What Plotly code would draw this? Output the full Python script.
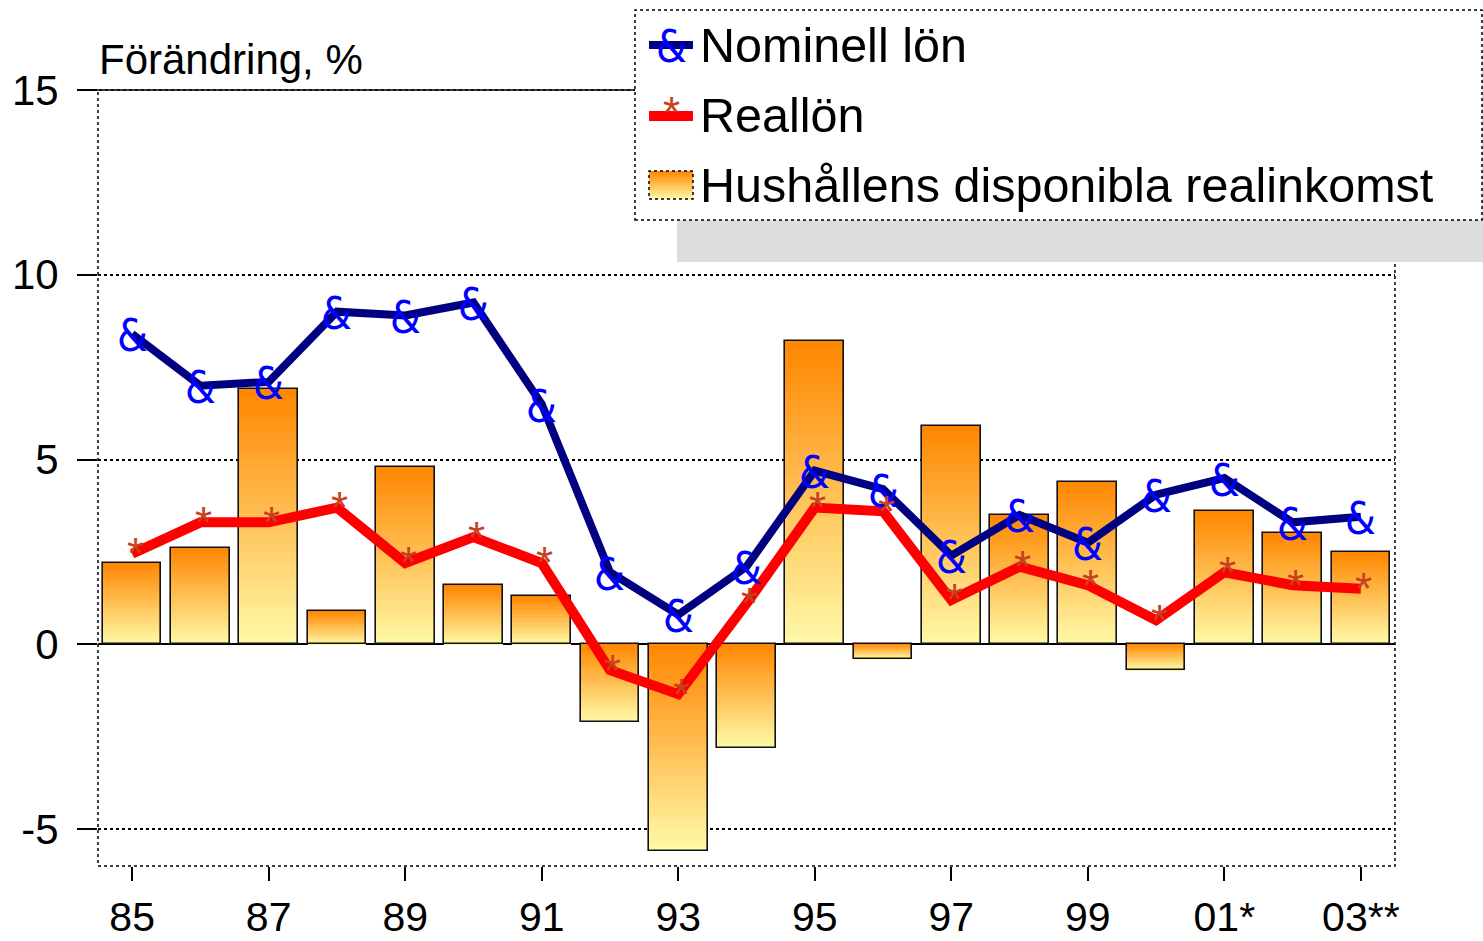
import plotly.graph_objects as go

# ---------------- data ----------------
categories = ["85", "86", "87", "88", "89", "90", "91", "92", "93", "94",
              "95", "96", "97", "98", "99", "00", "01", "02", "03"]
tick_vals = ["85", "87", "89", "91", "93", "95", "97", "99", "01", "03"]
tick_text = ["85", "87", "89", "91", "93", "95", "97", "99", "01*", "03**"]

disponibel = [2.2, 2.6, 6.9, 0.9, 4.8, 1.6, 1.3, -2.1, -5.6, -2.8,
              8.2, -0.4, 5.9, 3.5, 4.4, -0.7, 3.6, 3.0, 2.5]
nominell = [8.4, 7.0, 7.1, 9.0, 8.9, 9.25, 6.5, 1.95, 0.8, 2.1,
            4.7, 4.2, 2.4, 3.5, 2.75, 4.05, 4.5, 3.3, 3.45]
reallon = [2.45, 3.3, 3.3, 3.7, 2.2, 2.9, 2.2, -0.7, -1.35, 1.1,
           3.7, 3.6, 1.2, 2.1, 1.6, 0.65, 1.95, 1.6, 1.5]

title_text = "Förändring, %"
legend_names = ["Nominell lön", "Reallön", "Hushållens disponibla realinkomst"]

# ---------------- styling ----------------
W, H = 1483, 941
L, R, T, B = 98, 88, 90, 75
PW, PH = W - L - R, H - T - B
FONT = "Liberation Sans, Arial, sans-serif"
NARROW = "Liberation Sans Narrow, DejaVu Sans Condensed, Liberation Sans"
TOP_C = (255, 134, 0)
BOT_C = (255, 250, 168)
NAVY = "#000080"
RED = "#FF0000"
AMP_C = "#0000FF"
STAR_C = "#C8401E"


def px(x):
    return (x - L) / PW


def py(y):
    return (H - B - y) / PH


def mix(t):
    c = [round(TOP_C[k] + (BOT_C[k] - TOP_C[k]) * t) for k in range(3)]
    return "rgb(%d,%d,%d)" % tuple(c)


fig = go.Figure()

# gradient bars built from slices of each bar value
N = 36
BW = 0.86
for i in range(N):
    f = (i + 0.5) / N
    cols = [mix(1 - f) if v >= 0 else mix(f) for v in disponibel]
    fig.add_trace(go.Bar(
        x=categories,
        y=[v / N * 1.04 for v in disponibel],
        base=[v * i / N for v in disponibel],
        width=BW,
        marker=dict(color=cols, line=dict(width=0)),
        hoverinfo="skip", showlegend=False))

# bar outlines
fig.add_trace(go.Bar(
    x=categories, y=disponibel, width=BW,
    marker=dict(color="rgba(0,0,0,0)", line=dict(color="#111111", width=1.6)),
    hoverinfo="skip", showlegend=False))

# lines
fig.add_trace(go.Scatter(x=categories, y=nominell, mode="lines",
                         line=dict(color=NAVY, width=8), showlegend=False,
                         hoverinfo="skip"))
fig.add_trace(go.Scatter(x=categories, y=reallon, mode="lines",
                         line=dict(color=RED, width=10), showlegend=False,
                         hoverinfo="skip"))

shapes = []
annotations = []

# text markers placed at the data points (category index on the x axis)
for idx, v in enumerate(nominell):
    annotations.append(dict(text="&", x=idx, y=v, xref="x", yref="y", showarrow=False,
                            xanchor="center", yanchor="middle", yshift=-2,
                            font=dict(family=NARROW, size=44, color=AMP_C)))
for idx, v in enumerate(reallon):
    annotations.append(dict(text="*", x=idx, y=v, xref="x", yref="y", showarrow=False,
                            xanchor="center", yanchor="middle", yshift=0, xshift=3,
                            font=dict(family=FONT, size=44, color=STAR_C)))

# plot border (dotted)
shapes.append(dict(type="rect", xref="paper", yref="paper", x0=0, x1=1, y0=0, y1=1,
                   line=dict(color="black", width=1.5, dash="dot"), layer="above"))
# top solid-ish line
shapes.append(dict(type="line", xref="paper", yref="paper", x0=px(78), x1=1, y0=1, y1=1,
                   line=dict(color="black", width=1.5), layer="above"))

# legend shadow and box
shapes.append(dict(type="rect", xref="paper", yref="paper",
                   x0=px(677), x1=px(1495), y0=py(262), y1=py(52),
                   fillcolor="#DDDDDD", line=dict(width=0), layer="above"))
shapes.append(dict(type="rect", xref="paper", yref="paper",
                   x0=px(635), x1=px(1482), y0=py(220), y1=py(10),
                   fillcolor="white", line=dict(color="black", width=1.5, dash="dot"),
                   layer="above"))
# legend samples
shapes.append(dict(type="line", xref="paper", yref="paper",
                   x0=px(649), x1=px(693), y0=py(45), y1=py(45),
                   line=dict(color=NAVY, width=8), layer="above"))
shapes.append(dict(type="line", xref="paper", yref="paper",
                   x0=px(649), x1=px(693), y0=py(116), y1=py(116),
                   line=dict(color=RED, width=10), layer="above"))
NS = 14
sy0, sy1 = 171, 199
for k in range(NS):
    ya = sy0 + (sy1 - sy0) * k / NS
    yb = sy0 + (sy1 - sy0) * (k + 1) / NS
    shapes.append(dict(type="rect", xref="paper", yref="paper",
                       x0=px(649), x1=px(693), y0=py(yb + 0.3), y1=py(ya),
                       fillcolor=mix((k + 0.5) / NS), line=dict(width=0), layer="above"))
shapes.append(dict(type="rect", xref="paper", yref="paper",
                   x0=px(649), x1=px(693), y0=py(sy1), y1=py(sy0),
                   fillcolor="rgba(0,0,0,0)", line=dict(color="black", width=1.5, dash="dot"),
                   layer="above"))

annotations.append(dict(text="&", xref="paper", yref="paper", x=px(671), y=py(47),
                        showarrow=False, xanchor="center", yanchor="middle",
                        font=dict(family=NARROW, size=44, color=AMP_C)))
annotations.append(dict(text="*", xref="paper", yref="paper", x=px(671), y=py(112),
                        showarrow=False, xanchor="center", yanchor="middle",
                        font=dict(family=FONT, size=44, color=STAR_C)))
for name, yc in zip(legend_names, [45, 115, 185]):
    annotations.append(dict(text=name, xref="paper", yref="paper", x=px(698), y=py(yc),
                            showarrow=False, xanchor="left", yanchor="middle",
                            font=dict(family=FONT, size=48.5, color="black")))

# title
annotations.append(dict(text=title_text, xref="paper", yref="paper", x=px(97), y=py(60),
                        showarrow=False, xanchor="left", yanchor="middle",
                        font=dict(family=FONT, size=42, color="black")))

fig.update_layout(
    width=W, height=H,
    margin=dict(l=L, r=R, t=T, b=B, pad=0, autoexpand=False),
    paper_bgcolor="white", plot_bgcolor="white",
    barmode="overlay", bargap=0,
    showlegend=False, hovermode=False,
    font=dict(family=FONT, size=40, color="black"),
    shapes=shapes, annotations=annotations,
    xaxis=dict(type="category", categoryorder="array", categoryarray=categories,
               range=[-0.5, len(categories) - 0.5], automargin=False,
               tickmode="array", tickvals=tick_vals, ticktext=tick_text,
               ticks="outside", ticklen=14, tickcolor="black", tickwidth=1.5,
               ticklabelstandoff=1,
               showgrid=False, zeroline=False, showline=False,
               tickfont=dict(family=FONT, size=41, color="black")),
    yaxis=dict(range=[-6, 15], tickmode="array", tickvals=[-5, 0, 5, 10, 15],
               ticktext=["-5", "0", "5", "10", "15"], automargin=False,
               ticks="outside", ticklen=20, tickcolor="black", tickwidth=1.5,
               ticklabelstandoff=10,
               showgrid=True, gridcolor="black", gridwidth=1.5, griddash="dot",
               zeroline=True, zerolinecolor="black", zerolinewidth=2,
               showline=False,
               tickfont=dict(family=FONT, size=42, color="black")),
)

fig.write_html("out.html", config={"displayModeBar": False},
               post_script="document.body.style.margin='0';document.body.style.overflow='hidden';")
